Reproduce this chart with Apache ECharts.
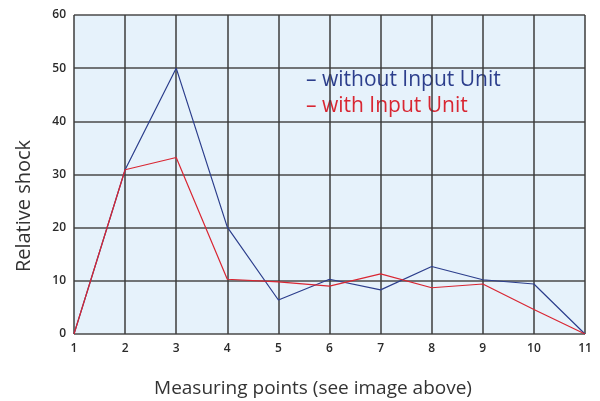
<!DOCTYPE html>
<html><head><meta charset="utf-8">
<script src="https://cdn.jsdelivr.net/npm/echarts@6/dist/echarts.min.js"></script>
<style>html,body{margin:0;padding:0;background:#fff}#c{width:600px;height:401px}</style>
</head><body><div id="c"></div>
<script>
var points = [1,2,3,4,5,6,7,8,9,10,11];
var withoutUnit = [0,30.9,50,20.1,6.4,10.3,8.3,12.7,10.2,9.4,0];
var withUnit = [0,30.9,33.2,10.3,9.8,9.0,11.3,8.7,9.4,4.6,0];
var seriesNames = ['without Input Unit','with Input Unit'];
var yTicks = [0,10,20,30,40,50,60];
var xTitle = 'Measuring points (see image above)';
var yTitle = 'Relative shock';
var colors = ['#2c3e8c','#d92632'];
var font = 'Open Sans';
function pairs(v){return points.map(function(p,i){return [p,v[i]];});}
var chart = echarts.init(document.getElementById('c'));
chart.setOption({
  backgroundColor:'#fff',
  animation:false,
  grid:{left:74,right:15,top:15,bottom:67,show:true,backgroundColor:'#e6f2fb',borderWidth:0},
  xAxis:{type:'value',min:1,max:11,interval:1,
    axisLine:{show:false},axisTick:{show:false},
    axisLabel:{fontSize:12,fontWeight:600,color:'#2a2a2a',fontFamily:font,margin:9},
    splitLine:{show:true,lineStyle:{color:'#3c3c3c',width:1.5}}},
  yAxis:{type:'value',min:yTicks[0],max:yTicks[yTicks.length-1],interval:10,
    axisLine:{show:false},axisTick:{show:false},
    axisLabel:{fontSize:12,fontWeight:600,color:'#2a2a2a',fontFamily:font,margin:8},
    splitLine:{show:true,lineStyle:{color:'#4a4a4a',width:1.5}}},
  series:[
    {name:seriesNames[0],type:'line',data:pairs(withoutUnit),showSymbol:false,lineStyle:{color:colors[0],width:1.2},itemStyle:{color:colors[0]},z:3},
    {name:seriesNames[1],type:'line',data:pairs(withUnit),showSymbol:false,lineStyle:{color:colors[1],width:1.2},itemStyle:{color:colors[1]},z:4}
  ],
  graphic:[
    {type:'text',x:306,y:80,style:{text:'– '+seriesNames[0],fill:colors[0],font:'21px "'+font+'"',textVerticalAlign:'middle'}},
    {type:'text',x:306,y:106,style:{text:'– '+seriesNames[1],fill:colors[1],font:'21px "'+font+'"',textVerticalAlign:'middle'}},
    {type:'text',x:313,y:389,style:{text:xTitle,fill:'#333',font:'19px "'+font+'"',textAlign:'center',textVerticalAlign:'middle'}},
    {type:'text',x:24,y:206,rotation:Math.PI/2,style:{text:yTitle,fill:'#333',font:'20px "'+font+'"',textAlign:'center',textVerticalAlign:'middle'}}
  ]
});
</script></body></html>
